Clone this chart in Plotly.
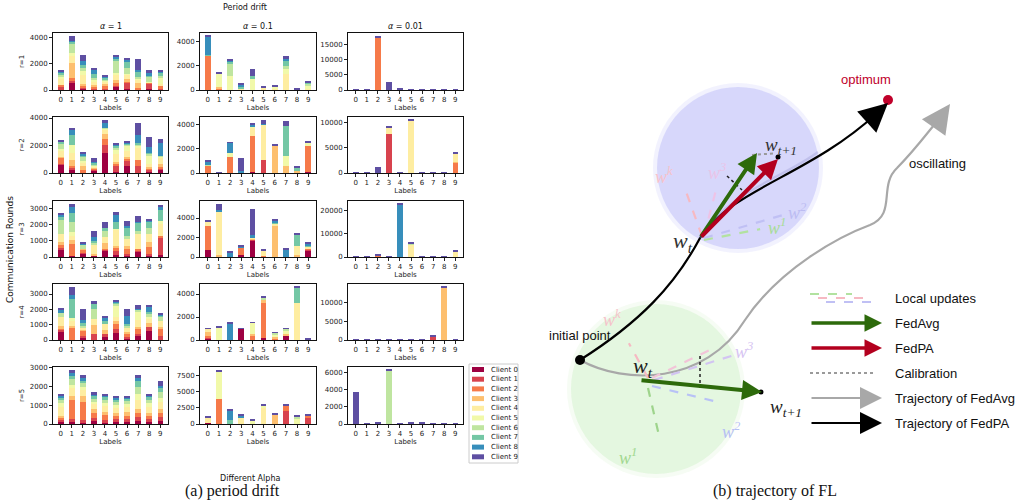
import plotly.graph_objects as go

W, H = 1032, 504

labels = [0, 1, 2, 3, 4, 5, 6, 7, 8, 9]
clients = ["Client %d" % k for k in range(10)]
client_colors = ["#9e0142", "#d8434e", "#f67a49", "#fdbf6f", "#feeda1",
                 "#f1f9a9", "#bfe5a0", "#74c7a5", "#378ebb", "#5e4fa2"]
alpha_titles = ["<i>α</i> = 1", "<i>α</i> = 0.1", "<i>α</i> = 0.01"]
row_titles = ["r=1", "r=2", "r=3", "r=4", "r=5"]

# each list: one bar per label, values per client (Client 0 ... Client 9)
r1_a1 = [[0,300,100,0,450,150,200,100,80,80],[560,200,130,1200,500,270,660,180,40,410],
         [80,100,150,100,700,300,250,200,300,510],[0,50,250,100,250,150,100,300,380,80],
         [0,150,150,200,150,100,80,100,80,65],[200,180,150,200,400,200,900,200,80,180],
         [80,480,50,200,350,100,430,480,130,180],[0,50,100,350,300,100,100,400,150,830],
         [100,400,50,0,20,20,450,30,230,240],[0,50,330,0,100,450,200,150,160,100]]
r1_a01 = [[0,0,2860,0,0,0,0,60,1510,90],[60,0,100,50,0,1130,40,0,0,50],
          [0,0,0,0,0,1200,1000,100,190,80],[0,0,60,0,40,0,60,100,200,55],
          [0,0,0,0,0,915,0,230,0,600],[0,0,0,50,150,0,0,0,0,60],
          [0,0,0,0,80,200,0,0,0,60],[0,0,0,0,1370,400,200,500,100,260],
          [0,0,0,0,0,0,0,0,25,60],[0,0,0,0,100,250,230,30,20,60]]
r1_a001 = [[0,0,0,0,0,0,0,0,0,20],[0,0,0,0,0,0,0,0,0,20],
           [0,0,17550,0,0,0,0,0,0,450],[0,0,0,0,0,0,0,0,0,2780],
           [0,0,0,0,0,0,0,0,70,600],[0,0,0,0,0,0,0,0,0,330],
           [0,0,0,0,0,0,0,0,0,30],[0,0,0,0,0,0,0,0,0,30],
           [0,0,0,0,0,0,0,0,0,30],[0,0,0,0,0,0,0,0,0,30]]
r2_a1 = [[610,50,450,50,450,100,400,150,30,100],[200,170,120,490,490,600,0,730,400,100],
         [0,0,250,240,300,100,250,150,110,65],[200,50,50,80,100,50,120,100,60,290],
         [1420,590,440,370,320,100,50,0,370,220],[100,400,200,100,600,250,200,150,100,100],
         [540,400,100,150,400,350,150,80,80,70],[0,540,390,0,900,170,50,140,540,880],
         [120,120,100,100,200,600,150,80,440,680],[240,80,150,150,450,150,50,0,880,290]]
r2_a01 = [[0,0,610,0,0,0,80,0,300,110],[0,0,0,0,0,0,0,0,0,80],
          [0,0,1300,0,0,360,0,0,830,50],[0,0,0,0,0,0,0,0,190,1050],
          [100,0,2950,0,690,40,0,0,200,160],[0,1050,0,0,2950,0,0,0,80,330],
          [0,0,0,2290,0,0,0,0,0,110],[0,0,0,610,0,770,0,2480,0,410],
          [0,0,0,190,0,0,0,300,0,120],[80,0,2120,0,0,300,0,0,0,100]]
r2_a001 = [[0,0,0,0,0,0,0,0,0,80],[0,0,0,0,0,0,0,0,0,80],
           [0,0,0,0,0,0,0,0,0,1120],[0,7760,0,0,1250,0,0,0,0,140],
           [0,0,0,0,0,0,0,0,0,80],[0,0,0,0,10350,0,0,0,0,180],
           [0,0,0,0,0,0,0,0,0,80],[0,0,0,0,0,0,0,0,0,80],
           [0,0,0,0,0,0,0,0,0,80],[0,0,2170,100,1600,0,0,0,0,200]]
r3_a1 = [[410,140,200,200,510,0,820,270,65,140],[80,0,710,300,200,245,650,550,410,180],
         [200,50,200,50,0,0,260,0,100,80],[80,0,0,100,600,0,120,70,290,370],
         [410,50,40,390,330,0,410,200,0,350],[150,200,270,40,1060,50,0,410,410,245],
         [100,100,300,200,410,0,200,550,60,300],[350,50,100,0,920,0,200,510,50,350],
         [50,150,410,300,510,0,410,370,45,100],[140,1020,140,0,780,150,0,700,200,55]]
r3_a01 = [[730,0,2500,0,400,0,0,0,0,100],[100,0,0,100,4470,0,0,0,100,700],
          [0,0,0,0,0,0,0,0,420,110],[200,0,730,0,0,0,0,0,100,100],
          [1670,100,0,80,130,0,0,70,200,2650],[0,0,100,0,600,0,0,0,0,100],
          [0,0,0,3230,230,0,0,100,100,270],[0,0,0,0,0,0,0,0,730,200],
          [0,0,100,100,900,0,0,1200,0,100],[630,100,130,0,200,0,0,170,170,130]]
r3_a001 = [[0,0,0,0,0,0,0,0,0,50],[0,0,0,0,0,0,0,0,0,50],
           [0,0,770,0,0,0,0,0,0,200],[0,0,0,0,0,0,0,0,0,50],
           [0,0,0,0,0,0,0,0,22380,400],[0,0,0,0,5420,0,200,0,0,380],
           [0,0,0,0,0,0,0,0,0,50],[0,0,0,0,0,0,0,0,0,50],
           [0,0,0,0,0,0,0,0,0,50],[0,0,0,0,2300,0,150,0,0,190]]
r4_a1 = [[540,130,60,170,580,0,260,0,260,70],[0,0,840,50,370,150,0,1250,260,560],
         [170,70,320,150,100,0,100,220,150,730],[0,410,0,580,370,0,650,320,0,220],
         [200,220,0,260,370,0,0,220,220,20],[450,300,300,220,260,690,130,80,50,130],
         [50,200,110,150,250,0,200,100,480,470],[240,150,320,150,450,500,150,0,50,280],
         [560,320,0,250,250,100,200,140,320,150],[0,280,500,100,370,0,280,60,50,110]]
r4_a01 = [[170,90,60,350,290,0,0,0,0,80],[0,0,0,0,0,1100,0,0,0,50],
          [0,0,0,0,0,0,0,0,1450,80],[970,0,0,0,0,0,0,0,0,70],
          [0,0,430,50,0,1000,0,0,0,50],[170,0,3050,320,0,0,170,0,0,120],
          [0,0,60,230,0,200,140,0,0,60],[320,0,0,230,0,290,120,0,0,80],
          [0,0,0,0,3230,0,0,1320,0,90],[0,0,0,0,0,0,0,0,0,90]]
r4_a001 = [[0,0,0,0,0,0,0,0,0,40],[0,0,0,0,0,0,0,0,0,40],
           [0,0,0,0,0,0,0,0,0,40],[0,0,0,0,0,0,0,0,0,40],
           [0,0,0,0,0,0,0,0,0,40],[0,0,0,0,0,0,0,0,0,40],
           [0,0,0,0,0,0,0,0,0,40],[0,880,0,0,0,0,0,0,0,270],
           [0,0,0,13900,0,0,0,0,0,350],[0,0,0,0,0,0,0,0,0,40]]
r5_a1 = [[100,150,100,100,450,200,200,100,100,100],[100,150,1050,200,400,200,300,200,100,200],
         [100,100,1000,300,300,200,200,150,100,150],[150,150,300,200,250,150,150,150,50,150],
         [100,100,300,150,300,150,200,150,50,100],[100,150,200,150,250,150,150,150,100,100],
         [100,150,200,200,250,150,200,100,50,100],[150,200,250,200,500,300,400,300,150,150],
         [100,150,200,150,300,200,200,150,50,100],[150,200,250,200,400,200,300,250,100,250]]
r5_a01 = [[200,0,0,0,800,0,0,0,0,100],[0,0,3800,0,0,4400,0,0,0,200],
          [0,0,0,0,0,0,0,600,1500,100],[0,0,0,0,1000,0,0,0,300,100],
          [0,0,0,0,0,600,0,0,0,100],[0,0,0,0,2500,300,0,0,0,200],
          [0,0,0,1500,0,0,0,0,0,200],[0,2000,800,0,0,0,0,0,0,200],
          [0,0,0,0,0,900,300,0,0,100],[0,1000,300,0,0,0,0,0,0,100]]
r5_a001 = [[0,0,0,0,0,0,0,0,0,3700],[60,0,0,0,0,0,0,0,0,55],
           [0,0,0,0,0,0,0,0,0,120],[0,0,0,0,0,0,6150,0,0,120],
           [0,0,0,0,0,0,0,0,0,100],[0,100,0,0,0,0,0,0,0,130],
           [0,0,0,0,0,0,0,0,0,200],[0,0,0,0,0,0,0,0,0,50],
           [0,0,0,0,0,0,0,0,0,50],[0,0,0,0,0,0,0,0,0,50]]

grid = [[r1_a1, r1_a01, r1_a001], [r2_a1, r2_a01, r2_a001], [r3_a1, r3_a01, r3_a001],
        [r4_a1, r4_a01, r4_a001], [r5_a1, r5_a01, r5_a001]]
ytick_steps = [[2000, 2000, 5000], [2000, 2000, 5000], [1000, 2000, 10000],
               [1000, 2000, 5000], [1000, 2500, 2000]]

legend_items = ["Local updates", "FedAvg", "FedPA", "Calibration",
                "Trajectory of FedAvg", "Trajectory of FedPA"]

# ---------------- layout helpers ----------------
def px(x):
    return x / W

def py(y):
    return 1 - y / H

col_x = [(53, 168), (200, 316), (348, 463)]
row_y = [(33, 90), (117, 173), (201, 257), (284, 340), (367, 424)]

fig = go.Figure()
layout = dict(width=W, height=H, margin=dict(l=0, r=0, t=0, b=0, autoexpand=False),
              paper_bgcolor="white", plot_bgcolor="white", barmode="stack",
              bargap=0, showlegend=False,
              font=dict(family="DejaVu Sans", color="#222", size=7))
annotations = []
shapes = []

TICKF = dict(family="DejaVu Sans", size=7, color="#222")
for r in range(5):
    for c in range(3):
        i = r * 3 + c + 1
        xa = "x" if i == 1 else "x%d" % i
        ya = "y" if i == 1 else "y%d" % i
        data = grid[r][c]
        totals = [sum(b) for b in data]
        for k in range(10):
            fig.add_trace(go.Bar(
                x=labels, y=[data[j][k] for j in range(10)], width=0.5,
                marker=dict(color=client_colors[k], line=dict(width=0)),
                name=clients[k], legendgroup=clients[k],
                showlegend=False, xaxis=xa, yaxis=ya, hoverinfo="skip"))
        ymax = max(totals) * 1.05
        step = ytick_steps[r][c]
        tv = list(range(0, int(ymax) + 1, step))
        layout["xaxis" if i == 1 else "xaxis%d" % i] = dict(
            domain=[px(col_x[c][0]), px(col_x[c][1])], anchor=ya,
            range=[-0.7, 9.7], tickvals=labels, ticks="outside", ticklen=3,
            tickwidth=0.8, tickcolor="#222", showline=True, mirror=True,
            linecolor="#111", linewidth=1, showgrid=False, zeroline=False,
            tickfont=TICKF, title=dict(text="Labels", font=dict(size=7), standoff=1))
        layout["yaxis" if i == 1 else "yaxis%d" % i] = dict(
            domain=[py(row_y[r][1]), py(row_y[r][0])], anchor=xa,
            range=[0, ymax], tickvals=tv, tickformat="d", ticks="outside",
            ticklen=3, tickwidth=0.8, tickcolor="#222", showline=True, mirror=True,
            linecolor="#111", linewidth=1, showgrid=False, zeroline=False,
            tickfont=TICKF,
            title=dict(text=row_titles[r] if c == 0 else "", font=dict(size=7), standoff=4))

def text(x, y, s, size=13, color="#111", family="Liberation Sans", angle=0, xanchor="center"):
    annotations.append(dict(x=px(x), y=py(y), xref="paper", yref="paper", text=s,
                            showarrow=False, textangle=angle, xanchor=xanchor,
                            yanchor="middle", font=dict(size=size, color=color, family=family)))

for c in range(3):
    text((col_x[c][0] + col_x[c][1]) / 2, 26, alpha_titles[c], size=8, family="DejaVu Sans")

text(245, 8, "Period drift", size=8, family="DejaVu Sans")
text(250, 478, "Different Alpha", size=8, family="DejaVu Sans")
text(10, 250, "Communication Rounds", size=9, family="DejaVu Sans", angle=-90)
text(232, 491, "(a) period drift", size=16, family="Liberation Serif")
text(775, 491, "(b) trajectory of FL", size=16, family="Liberation Serif")

# client legend box (drawn manually)
shapes.append(dict(type="rect", xref="paper", yref="paper", x0=px(469), x1=px(518),
                   y0=py(463), y1=py(364), line=dict(color="#cccccc", width=1),
                   fillcolor="white"))
for k in range(10):
    yk = 369.5 + k * 9.7
    shapes.append(dict(type="rect", xref="paper", yref="paper", x0=px(472), x1=px(484),
                       y0=py(yk + 2.5), y1=py(yk - 2.5), line=dict(width=0),
                       fillcolor=client_colors[k]))
    text(489, yk, clients[k], size=7, family="DejaVu Sans", color="#222", xanchor="left")

# ---------------- diagram helpers ----------------
def arrow(x0, y0, x1, y1, color, width, size=1.0, head=2):
    annotations.append(dict(x=px(x1), y=py(y1), xref="paper", yref="paper",
                            ax=x0 - x1, ay=y0 - y1, axref="pixel", ayref="pixel",
                            text="", showarrow=True, arrowhead=head, arrowsize=size,
                            arrowwidth=width, arrowcolor=color, standoff=0))

def dashed_arrow(x0, y0, x1, y1, color, width=2.2, dash="dash", size=1.0):
    dx, dy = x1 - x0, y1 - y0
    L = (dx * dx + dy * dy) ** 0.5
    ux, uy = dx / L, dy / L
    bx, by = x1 - ux * 6, y1 - uy * 6
    shapes.append(dict(type="line", xref="paper", yref="paper", x0=px(x0), y0=py(y0),
                       x1=px(bx), y1=py(by), line=dict(color=color, width=width, dash=dash)))
    arrow(x1 - ux * 3, y1 - uy * 3, x1, y1, color, width, size=size)

def curve(pts, color, width):
    d = "M %.4f,%.4f" % (px(pts[0][0]), py(pts[0][1]))
    for j in range(1, len(pts), 3):
        d += " C " + " ".join("%.4f,%.4f" % (px(a), py(b)) for a, b in pts[j:j + 3])
    shapes.append(dict(type="path", xref="paper", yref="paper", path=d,
                       line=dict(color=color, width=width)))

def dot(x, y, rad, color):
    shapes.append(dict(type="circle", xref="paper", yref="paper", x0=px(x - rad), x1=px(x + rad),
                       y0=py(y + rad), y1=py(y - rad), fillcolor=color, line=dict(width=0)))

# circles (soft edges)
dot(738, 168, 85, "rgba(205,205,250,0.25)")
dot(738, 168, 81, "rgba(210,210,250,0.85)")
dot(656, 389, 89, "rgba(218,245,212,0.25)")
dot(656, 389, 85, "rgba(224,246,220,0.85)")

# trajectories
curve([(580, 360), (640, 322), (675, 285), (700, 238),
       (730, 190), (810, 175), (876, 114)], "#000000", 2.2)
curve([(580, 360), (625, 385), (705, 385), (745, 320),
       (780, 268), (840, 236), (870, 225),
       (897, 214), (878, 186), (897, 168),
       (915, 150), (928, 132), (939, 119)], "#a8a8a8", 2.2)
arrow(868, 121, 888, 103, "#000000", 2.2, size=2.6)
arrow(934, 127, 950, 104, "#a8a8a8", 2.2, size=2.6)
# tint of the part of FedPA trajectory inside the blue disc
curve([(700, 238), (730, 190), (780, 180), (818, 152)], "rgba(150,150,210,0.35)", 2.2)

dot(888, 100, 5, "#c0002a")
text(866, 79, "optimum", size=13, color="#c0002a")
dot(580, 360, 5, "#000000")
text(580, 335, "initial point", size=13)
text(937, 164, "oscillating", size=13)

SERIF = "Liberation Serif"
# blue circle content
dashed_arrow(702, 236, 684, 186, "#f6b9c2")
dashed_arrow(704, 236, 718, 182, "#eec3e6")
dashed_arrow(704, 238, 790, 213, "#c0c0f4")
dashed_arrow(704, 240, 766, 228, "#b2e2a0")
shapes.append(dict(type="line", xref="paper", yref="paper", x0=px(727), y0=py(176),
                   x1=px(742), y1=py(190), line=dict(color="#222", width=1.5, dash="dot")))
arrow(700, 238, 757, 153, "#2d6a0b", 4, size=1.0)
arrow(700, 238, 778, 159, "#b3001e", 4, size=1.0)
dashed_arrow(752, 155, 779, 153, "#9a9a9a", width=2, dash="dot")
dot(778, 157, 2.5, "#000000")
text(664, 175, "<i>w<sup>k</sup></i>", size=18, color="#f6c2ca", family=SERIF)
text(717, 171, "<i>w<sup>3</sup></i>", size=18, color="#eac4e8", family=SERIF)
text(797, 211, "<i>w<sup>2</sup></i>", size=18, color="#bcbcf2", family=SERIF)
text(777, 227, "<i>w<sup>1</sup></i>", size=18, color="#a8dc98", family=SERIF)
text(683, 242, "<i>w<sub>t</sub></i>", size=22, color="#333", family=SERIF)
text(781, 146, "<i>w<sub>t+1</sub></i>", size=19, color="#333", family=SERIF)

# green circle content
dashed_arrow(648, 378, 626, 338, "#f6b9c2")
dashed_arrow(652, 378, 720, 345, "#f2c4d8")
dashed_arrow(654, 380, 744, 352, "#d2c4f2")
dashed_arrow(652, 386, 722, 403, "#b8c2f6")
dashed_arrow(648, 388, 660, 440, "#9ed48c")
shapes.append(dict(type="line", xref="paper", yref="paper", x0=px(700), y0=py(356),
                   x1=px(700), y1=py(388), line=dict(color="#222", width=1.5, dash="dot")))
arrow(640, 380, 762, 392, "#2d6a0b", 4, size=1.0)
dot(761, 392, 2.5, "#000000")
text(612, 318, "<i>w<sup>k</sup></i>", size=18, color="#f6c2ca", family=SERIF)
text(744, 350, "<i>w<sup>3</sup></i>", size=18, color="#d6c4f2", family=SERIF)
text(731, 430, "<i>w<sup>2</sup></i>", size=18, color="#b6c0f4", family=SERIF)
text(628, 456, "<i>w<sup>1</sup></i>", size=18, color="#a2d890", family=SERIF)
text(643, 367, "<i>w<sub>t</sub></i>", size=22, color="#222", family=SERIF)
text(786, 408, "<i>w<sub>t+1</sub></i>", size=19, color="#222", family=SERIF)

# diagram legend
ly = [298, 323, 348, 373, 398, 423]
dashed_arrow(810, 294, 858, 294, "#b2e2a0")
dashed_arrow(818, 298, 870, 298, "#f6b9c2")
dashed_arrow(826, 302, 882, 302, "#c0c0f4")
arrow(810, ly[1], 882, ly[1], "#2d6a0b", 3.5, size=1.0)
arrow(810, ly[2], 882, ly[2], "#b3001e", 3.5, size=1.0)
dashed_arrow(810, ly[3], 882, ly[3], "#9a9a9a", width=2.2, dash="dot", size=1.2)
arrow(810, ly[4], 882, ly[4], "#a8a8a8", 2.2, size=2.0)
arrow(810, ly[5], 882, ly[5], "#000000", 2.2, size=2.0)
for yy, s in zip(ly, legend_items):
    text(893, yy, s, size=13, xanchor="left")

layout["annotations"] = annotations
layout["shapes"] = shapes
fig.update_layout(**layout)
fig.write_html("out.html", config={"displayModeBar": False},
               post_script="document.body.style.margin='0px';document.body.style.overflow='hidden';")
